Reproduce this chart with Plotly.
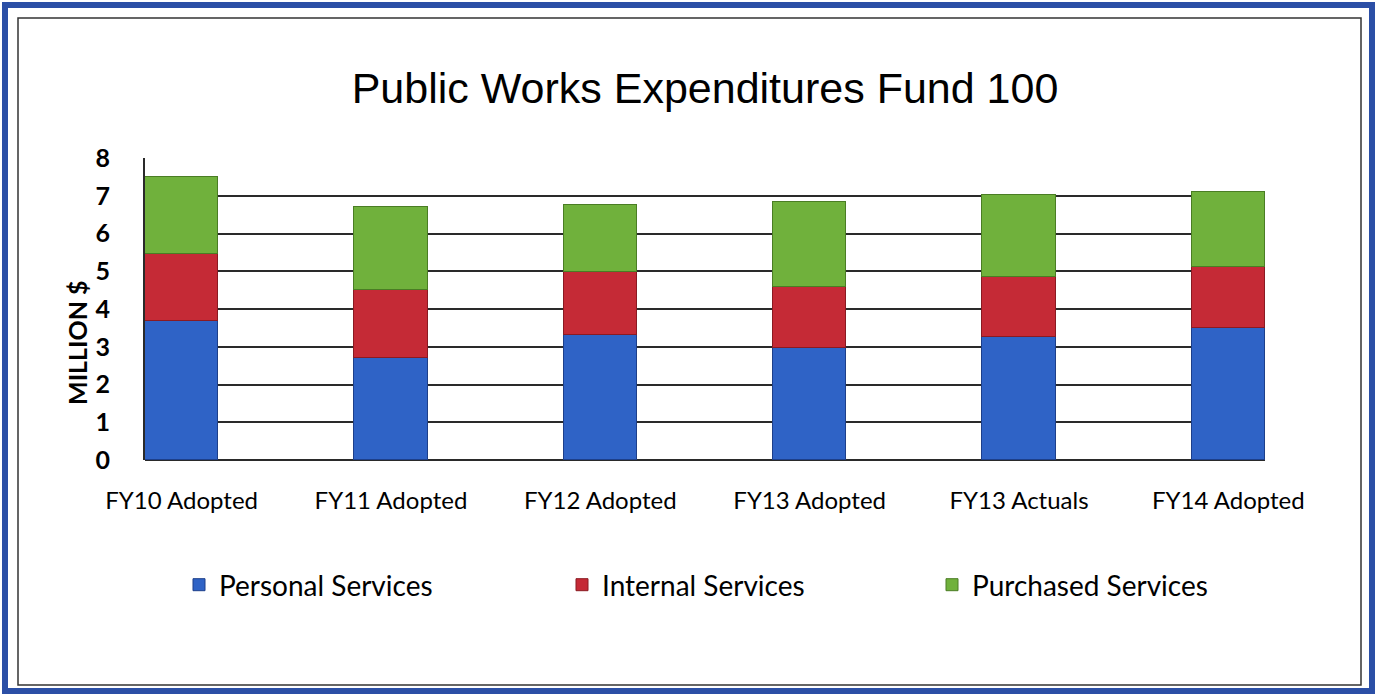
import plotly.graph_objects as go

categories = ["FY10 Adopted", "FY11 Adopted", "FY12 Adopted", "FY13 Adopted", "FY13 Actuals", "FY14 Adopted"]
personal = [3.68, 2.69, 3.31, 2.96, 3.25, 3.49]
internal = [1.78, 1.81, 1.67, 1.63, 1.61, 1.63]
purchased = [2.04, 2.19, 1.77, 2.25, 2.16, 1.99]
y_ticks = [0, 1, 2, 3, 4, 5, 6, 7, 8]

W, H = 1377, 696
L, R, T, B = 145, 1265, 158, 460  # plot area in pixels

def px(x):
    return (x - L) / (R - L)

def py(y):
    return (B - y) / (B - T)

fig = go.Figure()
series = [
    ("Personal Services", personal, "#2f63c6", "#1d3f8a", "legend", 179),
    ("Internal Services", internal, "#c52a36", "#8a1a22", "legend2", 562),
    ("Purchased Services", purchased, "#70b13c", "#4a7d24", "legend3", 932),
]
legend_font = dict(family="Lato, Open Sans", size=28, color="black")
legends = {}
for name, vals, col, edge, lg, lx in series:
    fig.add_trace(go.Bar(
        x=categories, y=vals, name=name, width=0.35, legend=lg,
        marker=dict(color=col, line=dict(color=edge, width=1)),
    ))
    legends[lg] = dict(orientation="h", xref="container", yref="container",
                       x=lx / W, y=1 - 585 / H, xanchor="left", yanchor="middle",
                       font=legend_font, bgcolor="rgba(0,0,0,0)")

fig.update_layout(
    barmode="stack",
    width=W, height=H,
    margin=dict(l=L, r=W - R, t=T, b=H - B),
    paper_bgcolor="white",
    plot_bgcolor="white",
    title=dict(text="Public Works Expenditures Fund 100",
               font=dict(family="Liberation Sans, Arial", size=43, color="black"),
               x=0.5, xanchor="center", xref="paper",
               y=1 - 88 / H, yanchor="middle"),
    showlegend=True,
    xaxis=dict(range=[-0.175, 5.175], showgrid=False, showline=False, zeroline=False,
               tickfont=dict(family="Lato, Open Sans", size=24, color="black"),
               ticklabelstandoff=24, ticks=""),
    yaxis=dict(range=[0, 8], tickvals=y_ticks, showgrid=True, gridcolor="#2a2a2a", gridwidth=2,
               showline=True, linecolor="#2a2a2a", linewidth=2, zeroline=True,
               zerolinecolor="#2a2a2a", zerolinewidth=2,
               tickfont=dict(family="Lato, Open Sans", size=25, color="black", weight="bold"),
               ticklabelstandoff=28, ticks=""),
    bargap=0,
    **legends,
)

fig.add_annotation(text="<b>MILLION $</b>", textangle=-90, x=px(60), y=py(343),
                   xref="paper", yref="paper", showarrow=False,
                   font=dict(family="Lato, Open Sans", size=25, color="black"))

# outer blue frame and inner black frame
fig.add_shape(type="rect", xref="paper", yref="paper",
              x0=px(5), x1=px(1372), y0=py(691), y1=py(5),
              line=dict(color="#2b4fa6", width=6), layer="below")
fig.add_shape(type="rect", xref="paper", yref="paper",
              x0=px(18), x1=px(1361), y0=py(685), y1=py(18),
              line=dict(color="#333333", width=1.5), layer="below")

fig.write_html("out.html")
